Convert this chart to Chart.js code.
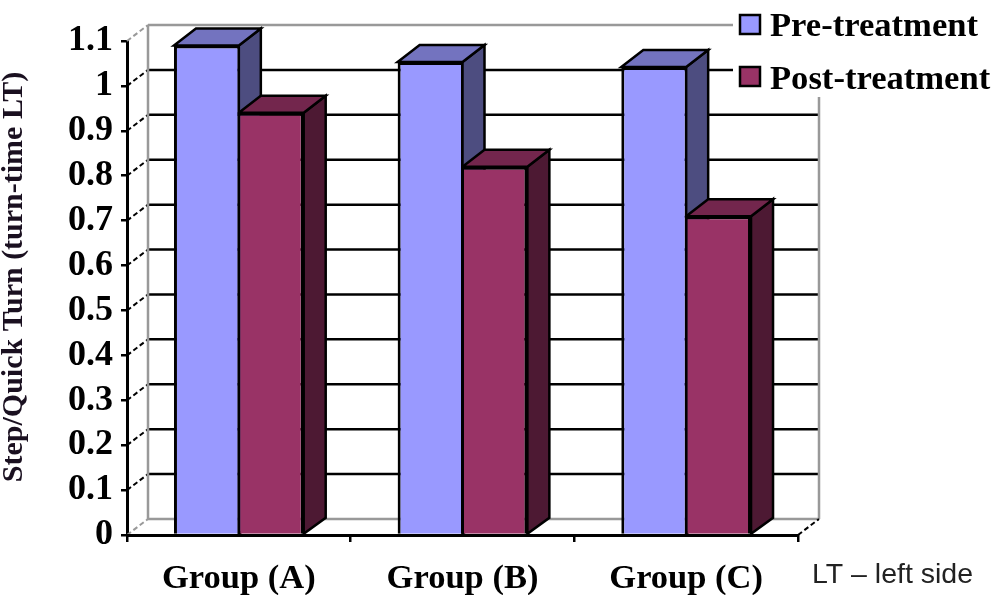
<!DOCTYPE html>
<html>
<head>
<meta charset="utf-8">
<style>
html, body { margin: 0; padding: 0; background: #fff; }
canvas { display: block; }
</style>
<script src="https://cdn.jsdelivr.net/npm/chart.js@4"></script>
</head>
<body>
<canvas id="barChart" width="994" height="595"></canvas>
<script>
const categories = ["Group (A)", "Group (B)", "Group (C)"];
const preTreatment = [1.09, 1.053, 1.042];
const postTreatment = [0.94, 0.82, 0.71];
const yTickLabels = ["0", "0.1", "0.2", "0.3", "0.4", "0.5", "0.6", "0.7", "0.8", "0.9", "1", "1.1"];
const seriesNames = ["Pre-treatment", "Post-treatment"];
const yTitle = "Step/Quick Turn (turn-time LT)";
const note = "LT \u2013 left side";

const serif = "'Liberation Serif'";
const frontColors = ["#9999FF", "#993366"];
const topColors = ["#7373BF", "#73264D"];
const sideColors = ["#4D4D80", "#4D1933"];

// how far the back wall and the bars are pushed back
const wallDx = 21, wallDy = -16;
const barDx = 22, barDy = -17;

const line = (ctx, x1, y1, x2, y2, color, width, dash) => {
    ctx.save();
    ctx.strokeStyle = color;
    ctx.lineWidth = width;
    ctx.setLineDash(dash || []);
    ctx.beginPath();
    ctx.moveTo(x1, y1);
    ctx.lineTo(x2, y2);
    ctx.stroke();
    ctx.restore();
};

const poly = (ctx, pts, fill) => {
    ctx.beginPath();
    pts.forEach((p, i) => i ? ctx.lineTo(p[0], p[1]) : ctx.moveTo(p[0], p[1]));
    ctx.closePath();
    ctx.fillStyle = fill;
    ctx.fill();
    ctx.strokeStyle = "#000";
    ctx.lineWidth = 2.5;
    ctx.stroke();
};

const wallPlugin = {
    id: "wall",
    beforeDatasetsDraw(chart) {
        const ctx = chart.ctx, a = chart.chartArea, y = chart.scales.y;
        const bx = a.left + wallDx, rx = a.right + wallDx;
        const topY = y.getPixelForValue(1.1) + wallDy, floorY = y.getPixelForValue(0) + wallDy;
        y.ticks.forEach((t, i) => {
            const py = y.getPixelForValue(t.value);
            const edge = i === 0 || i === y.ticks.length - 1;
            line(ctx, a.left, py, bx, py + wallDy, edge ? "#999" : "#000", 2, [5, 3]);
            if (!edge) line(ctx, bx, py + wallDy, rx, py + wallDy, "#000", 2.5);
        });
        line(ctx, bx, topY, rx, topY, "#999", 2.5);
        line(ctx, bx, floorY, rx, floorY, "#999", 2.5);
        line(ctx, bx, topY, bx, floorY, "#999", 2.5);
        line(ctx, rx, topY, rx, floorY, "#999", 2.5);
        line(ctx, a.right, a.bottom, rx, floorY, "#000", 2, [5, 3]);

        // bar sides and tops go under the fronts, first series first
        chart.data.datasets.forEach((ds, d) => {
            chart.getDatasetMeta(d).data.forEach(bar => {
                const p = bar.getProps(["x", "y", "base", "width"], true);
                const l = p.x - p.width / 2, r = p.x + p.width / 2;
                poly(ctx, [[r, p.y], [r + barDx, p.y + barDy], [r + barDx, p.base + wallDy], [r, p.base]], sideColors[d]);
                poly(ctx, [[l, p.y], [l + barDx, p.y + barDy], [r + barDx, p.y + barDy], [r, p.y]], topColors[d]);
            });
        });
    },
    afterDraw(chart) {
        const ctx = chart.ctx;
        // white legend box hides the wall behind it
        ctx.save();
        ctx.fillStyle = "#fff";
        ctx.fillRect(733, 0, 261, 97);
        ctx.textBaseline = "middle";
        ctx.font = "bold 34.6px " + serif;
        const legendBoxY = [15, 67], legendTextY = [27, 80];
        seriesNames.forEach((name, i) => {
            ctx.fillStyle = frontColors[i];
            ctx.fillRect(740, legendBoxY[i], 20, 19);
            ctx.strokeStyle = "#000";
            ctx.lineWidth = 2.5;
            ctx.strokeRect(740, legendBoxY[i], 20, 19);
            ctx.fillStyle = "#000";
            ctx.fillText(name, 770, legendTextY[i]);
        });

        ctx.fillStyle = "#222";
        ctx.font = "28.5px 'Liberation Sans'";
        ctx.fillText(note, 812, 575);

        ctx.translate(14, 277);
        ctx.rotate(-Math.PI / 2);
        ctx.textAlign = "center";
        ctx.fillStyle = "#1a1020";
        ctx.font = "bold 30px " + serif;
        ctx.fillText(yTitle, 0, 0);
        ctx.restore();
    }
};

const ctxB = document.getElementById("barChart").getContext("2d");
const myBarChart = new Chart(ctxB, {
    type: "bar",
    data: {
        labels: categories,
        datasets: [
            {
                label: seriesNames[0],
                data: preTreatment,
                backgroundColor: frontColors[0],
                borderColor: "#000",
                borderWidth: { top: 3, left: 3, right: 1.5, bottom: 0 }
            },
            {
                label: seriesNames[1],
                data: postTreatment,
                backgroundColor: frontColors[1],
                borderColor: "#000",
                borderWidth: { top: 3, left: 1.5, right: 3, bottom: 0 }
            }
        ]
    },
    options: {
        responsive: false,
        animation: false,
        layout: { padding: { top: 41, right: 196, left: 0, bottom: 0 } },
        plugins: { legend: { display: false }, tooltip: { enabled: false } },
        datasets: { bar: { categoryPercentage: 0.58, barPercentage: 1 } },
        scales: {
            x: {
                afterFit: scale => { scale.height = 60; },
                border: { color: "#000", width: 3, z: 1 },
                grid: { drawOnChartArea: false, color: "#000", lineWidth: 2.5, tickLength: 7 },
                ticks: {
                    color: "#000",
                    padding: 16,
                    maxRotation: 0,
                    font: { family: "Liberation Serif", size: 34.5, weight: "bold" }
                }
            },
            y: {
                min: 0,
                max: 1.1,
                afterFit: scale => { scale.width = 127; },
                border: { color: "#000", width: 3 },
                grid: { drawOnChartArea: false, color: "#000", lineWidth: 2.5, tickLength: 6 },
                ticks: {
                    stepSize: 0.1,
                    autoSkip: false,
                    color: "#000",
                    padding: 8,
                    callback: (value, index) => yTickLabels[index],
                    font: { family: "Liberation Serif", size: 36, weight: "bold" }
                }
            }
        }
    },
    plugins: [wallPlugin]
});
</script>
</body>
</html>
